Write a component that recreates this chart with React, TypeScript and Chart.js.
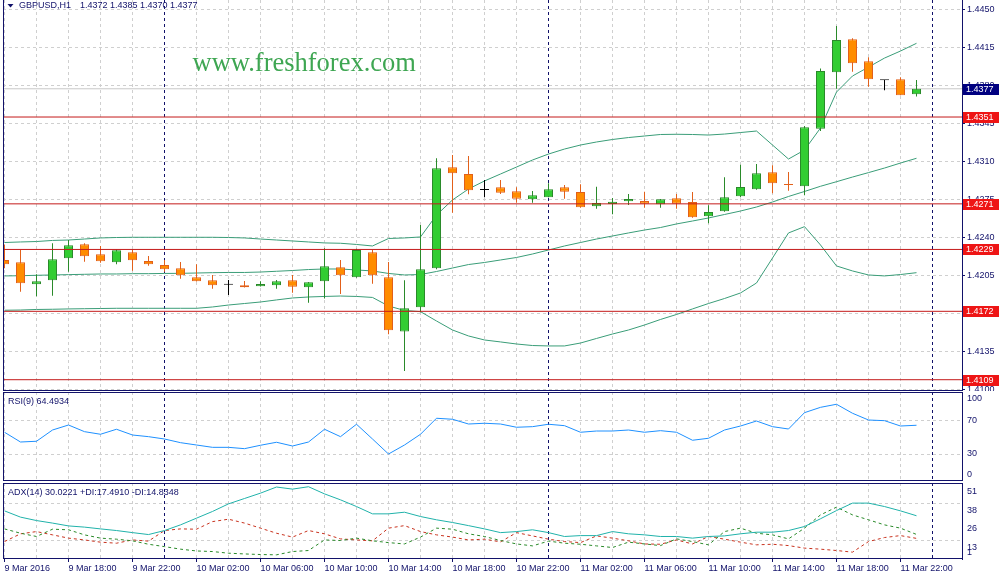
import { useEffect, useRef } from "react"
import { Chart, registerables } from "chart.js"

Chart.register(...registerables)

// Chart values (GBPUSD H1, 9 Mar 14:00 .. 11 Mar 23:00)
const symbol = "GBPUSD,H1"
const timeLabels = [
  "9 Mar 2016", "9 Mar 18:00", "9 Mar 22:00", "10 Mar 02:00", "10 Mar 06:00",
  "10 Mar 10:00", "10 Mar 14:00", "10 Mar 18:00", "10 Mar 22:00", "11 Mar 02:00",
  "11 Mar 06:00", "11 Mar 10:00", "11 Mar 14:00", "11 Mar 18:00", "11 Mar 22:00",
]

const opens = [
  1.42193, 1.42172, 1.41969, 1.42006, 1.42209, 1.42338, 1.42245, 1.42172, 1.42264, 1.42184,
  1.42147, 1.42116, 1.42034, 1.42006, 1.41965, 1.4196, 1.41951, 1.4196, 1.42006, 1.41942,
  1.41997, 1.42126, 1.42034, 1.42264, 1.42034, 1.41533, 1.41757, 1.42116, 1.43047, 1.42985,
  1.42838, 1.42862, 1.42826, 1.42752, 1.4277, 1.42862, 1.42819, 1.42687, 1.42709, 1.42734,
  1.42736, 1.42706, 1.42761, 1.42727, 1.42595, 1.42641, 1.4278, 1.42844, 1.43001, 1.42888,
  1.42872, 1.43402, 1.43922, 1.44226, 1.44023, 1.43848, 1.43857, 1.4372,
]
const highs = [
  1.42335, 1.42285, 1.42061, 1.42347, 1.42377, 1.42347, 1.42322, 1.42288, 1.42288, 1.4223,
  1.42193, 1.42175, 1.42153, 1.42055, 1.42009, 1.42, 1.41997, 1.42009, 1.42055, 1.4199,
  1.42301, 1.42193, 1.42297, 1.42285, 1.42175, 1.42006, 1.42515, 1.4313, 1.4316, 1.43151,
  1.4293, 1.4293, 1.42862, 1.42828, 1.42899, 1.42884, 1.4289, 1.42868, 1.42764, 1.42801,
  1.42822, 1.42755, 1.42801, 1.42819, 1.42697, 1.42955, 1.43071, 1.43077, 1.43065, 1.43003,
  1.43427, 1.43958, 1.44348, 1.44235, 1.4406, 1.4385, 1.43876, 1.4385,
]
const lows = [
  1.42116, 1.41901, 1.41859, 1.41864, 1.42085, 1.42177, 1.42168, 1.42153, 1.42094, 1.4214,
  1.42085, 1.42021, 1.41994, 1.41929, 1.41871, 1.4194, 1.41949, 1.41929, 1.41892, 1.418,
  1.41837, 1.4188, 1.4203, 1.41975, 1.41509, 1.41171, 1.41711, 1.42107, 1.42629, 1.42798,
  1.4277, 1.42801, 1.42721, 1.42721, 1.4277, 1.42757, 1.42675, 1.42665, 1.42614, 1.42699,
  1.42675, 1.42675, 1.42665, 1.42583, 1.42531, 1.42638, 1.4277, 1.4284, 1.42807, 1.42831,
  1.42789, 1.43381, 1.43771, 1.43927, 1.43789, 1.43756, 1.4371, 1.437,
]
const closes = [
  1.42153, 1.41978, 1.41997, 1.42199, 1.42328, 1.42227, 1.42181, 1.42282, 1.4219, 1.42153,
  1.42107, 1.42052, 1.41997, 1.4196, 1.41965, 1.41942, 1.41972, 1.41997, 1.41947, 1.41988,
  1.42135, 1.42052, 1.42285, 1.42052, 1.41545, 1.41748, 1.42107, 1.43037, 1.42991, 1.42835,
  1.42838, 1.42813, 1.42757, 1.42789, 1.42844, 1.42822, 1.42678, 1.42718, 1.4273, 1.42755,
  1.42711, 1.42752, 1.42711, 1.42586, 1.42635, 1.4277, 1.42865, 1.42991, 1.42899, 1.42884,
  1.43415, 1.43934, 1.44219, 1.44005, 1.43857, 1.43848, 1.4371, 1.4377,
]

// Bollinger bands
const bbUpper = [
  1.42354, 1.42359, 1.42363, 1.42373, 1.42377, 1.42386, 1.42396, 1.424, 1.42402, 1.42402,
  1.42402, 1.42402, 1.42402, 1.42402, 1.424, 1.42396, 1.42386, 1.42377, 1.42368, 1.42359,
  1.4235, 1.42347, 1.42336, 1.42322, 1.42391, 1.42396, 1.42405, 1.42607, 1.42746, 1.42847,
  1.42921, 1.42985, 1.43049, 1.43114, 1.43169, 1.43215, 1.43252, 1.4328, 1.43303, 1.43321,
  1.43335, 1.43349, 1.43351, 1.43349, 1.43344, 1.43353, 1.43367, 1.43381, 1.43252, 1.43123,
  1.43206, 1.43409, 1.4374, 1.43888, 1.4397, 1.44053, 1.44118, 1.44189,
]
const bbMiddle = [
  1.42046, 1.42048, 1.42052, 1.42055, 1.42058, 1.42061, 1.42064, 1.42064, 1.42067, 1.42067,
  1.42069, 1.4207, 1.42073, 1.42076, 1.42078, 1.42078, 1.42082, 1.42089, 1.42096, 1.42105,
  1.4211, 1.4211, 1.42101, 1.42092, 1.42069, 1.42055, 1.42059, 1.42087, 1.42119, 1.42151,
  1.4217, 1.42193, 1.42216, 1.42248, 1.42285, 1.42322, 1.42354, 1.42386, 1.42414, 1.42442,
  1.42469, 1.42492, 1.42525, 1.42552, 1.4258, 1.42612, 1.42644, 1.42681, 1.42727, 1.42778,
  1.42824, 1.42872, 1.42914, 1.42957, 1.42998, 1.4304, 1.43086, 1.4313,
]
const bbLower = [
  1.4173, 1.41732, 1.41737, 1.41739, 1.41742, 1.41744, 1.41746, 1.41748, 1.41748, 1.41748,
  1.41748, 1.41748, 1.41748, 1.4176, 1.41778, 1.41792, 1.41806, 1.41825, 1.41843, 1.41852,
  1.41857, 1.41861, 1.41857, 1.41848, 1.41769, 1.41728, 1.41717, 1.41631, 1.41548, 1.41493,
  1.41456, 1.41438, 1.41419, 1.41405, 1.41401, 1.41401, 1.41428, 1.4147, 1.41511, 1.41548,
  1.41594, 1.41645, 1.41691, 1.41742, 1.41792, 1.41838, 1.41889, 1.41981, 1.42211, 1.42442,
  1.425, 1.42331, 1.42138, 1.42092, 1.42055, 1.42046, 1.42059, 1.42076,
]

const rsiValues = [
  56.1, 44.4, 45.3, 58.8, 64.8, 56.8, 53.7, 59.7, 52.8, 50.8,
  48, 43.6, 40.8, 38, 38, 36.4, 40.5, 44.1, 39.6, 44.4,
  59.7, 50.8, 65.7, 48, 30, 40.8, 53.7, 72.9, 71.7, 66,
  66.9, 66, 62.1, 62.8, 65.7, 64, 56.1, 57.6, 57.6, 58.8,
  56.1, 58, 56.1, 46.5, 48.9, 58.8, 63.6, 69.6, 62.8, 60,
  79.6, 86, 89.7, 78.9, 70.8, 70, 63.6, 64.4934,
]
const adxValues = [
  33.3, 29.1, 26.8, 25.1, 23.2, 22.4, 21.2, 20.1, 18.7, 17.4,
  20.1, 23.9, 28.4, 32.9, 38, 41.6, 45.2, 49.3, 47.9, 49.5,
  44.7, 40.7, 36.2, 31.3, 31.3, 32.4, 29.5, 27.3, 25.5, 23.4,
  21.2, 18.7, 19.4, 20.6, 18.7, 16.1, 16.7, 16.7, 19.4, 17.9,
  17.2, 16.1, 16.1, 15, 16.1, 16.5, 17.9, 19, 19, 20.1,
  22.8, 28, 33.5, 38.5, 38.5, 36.2, 33.3, 30.0221,
]
const plusDi = [
  21.2, 18.3, 16.1, 21, 20.6, 17.2, 15, 14.3, 13.2, 10.9,
  9.3, 7.6, 6.4, 6, 4.9, 4.4, 4, 3.8, 6, 6.7,
  13.8, 13.4, 15, 13.2, 12, 11.1, 15.7, 21.7, 21, 17.9,
  16.1, 13.4, 11.1, 9.8, 13, 11.6, 10.9, 9.8, 8.7, 12.3,
  11.1, 10, 14.5, 12.7, 10.5, 19.4, 21.7, 18.3, 17.2, 14.5,
  21.7, 30.6, 35.8, 30.6, 27.3, 23.9, 21.7, 17.491,
]
const minusDi = [
  12.7, 17.9, 19.4, 17.2, 15, 13.8, 12.3, 11.6, 13.8, 13,
  20.1, 21.2, 21, 26.1, 27.7, 25.1, 21.7, 18.3, 15.7, 20.1,
  17.9, 14.5, 13.8, 13.2, 21.7, 23.4, 19.4, 17.2, 15.7, 13.8,
  14.3, 12.5, 18.7, 16.5, 14.3, 12.7, 12, 16.5, 15, 13.2,
  11.1, 10.9, 13.8, 11.1, 16.1, 14.3, 12.3, 10.5, 10.9, 10,
  8.3, 7.6, 6.7, 5.6, 12.7, 15.4, 16.7, 14.8348,
]

const levels = [1.4351, 1.4271, 1.4229, 1.4172, 1.4109]
const priceTicks = [1.445, 1.4415, 1.438, 1.4345, 1.431, 1.4275, 1.424, 1.4205, 1.417, 1.4135, 1.41]
const rsiTicks = [100, 70, 30, 0]
const rsiTickLabels = ["100", "70", "30", "0"]
const rsiGrid = [70, 30]
const adxTicks = [51, 38.5, 26, 13.5, 1]
const adxTickLabels = ["51", "38", "26", "13", "1"]
const adxGrid = [38.5, 13.5]
const daySeparators = [10, 34, 58]

const NAVY = "#12126a"
const GRID = "#cfcfcf"
const FONT = '"Liberation Sans", Arial, sans-serif'
const UP_FILL = "#32cd32"
const UP_EDGE = "#2a8a2a"
const DOWN_FILL = "#ff8c00"
const DOWN_EDGE = "#e2601a"
const BB = "#3a9d78"
const LEVEL = "#c41a1a"

const X_MIN = -0.09375
const X_MAX = 59.84375
const idx = opens.map((_, i) => i)
const gridTicks = Array.from({ length: 30 }, (_, k) => k * 2)

const isDoji = (i: number) => opens[i] === closes[i]
const bodyFill = idx.map((i) => (isDoji(i) ? "#000" : closes[i] > opens[i] ? UP_FILL : DOWN_FILL))
const bodyEdge = idx.map((i) => (isDoji(i) ? "#000" : closes[i] > opens[i] ? UP_EDGE : DOWN_EDGE))

function xAxis(showLabels: boolean) {
  return {
    type: "linear",
    min: X_MIN,
    max: X_MAX,
    offset: false,
    afterBuildTicks: (s: any) => {
      s.ticks = gridTicks.map((v) => ({ value: v }))
    },
    afterFit: (s: any) => {
      s.height = showLabels ? 20 : 0
      s.paddingLeft = 0
      s.paddingRight = 0
    },
    grid: {
      color: GRID,
      offset: false,
      drawTicks: showLabels,
      tickLength: 3,
      tickColor: (c: any) => (c.tick && c.tick.value % 4 === 0 ? NAVY : "rgba(0,0,0,0)"),
    },
    border: { display: false, dash: [3, 3] },
    ticks: {
      display: showLabels,
      autoSkip: false,
      maxRotation: 0,
      minRotation: 0,
      align: "start",
      padding: 1,
      color: NAVY,
      font: { family: FONT, size: 9 },
      callback: (v: number) => (v % 4 === 0 ? timeLabels[v / 4] ?? "" : ""),
    },
  }
}

function yAxis(min: number, max: number, ticks: number[], showLabels: boolean) {
  return {
    type: "linear",
    position: "right",
    min,
    max,
    afterBuildTicks: (s: any) => {
      s.ticks = ticks.map((v) => ({ value: v }))
    },
    afterFit: (s: any) => {
      s.width = 41
      s.paddingTop = 0
      s.paddingBottom = 0
    },
    grid: { color: GRID, drawTicks: showLabels, tickLength: 3, tickColor: NAVY },
    border: { display: true, color: NAVY, dash: [3, 3] },
    ticks: {
      display: showLabels,
      padding: 2,
      color: NAVY,
      font: { family: FONT, size: 9 },
      callback: (v: number) => v.toFixed(4),
    },
  }
}

const framePlugin = (drawTop: boolean) => ({
  id: "frame",
  afterDraw(chart: any) {
    const { ctx, chartArea: a } = chart
    ctx.save()
    ctx.strokeStyle = NAVY
    ctx.lineWidth = 1
    ctx.beginPath()
    if (drawTop) {
      ctx.moveTo(a.left, a.top + 0.5)
      ctx.lineTo(a.right + 1, a.top + 0.5)
    }
    ctx.moveTo(a.left + 0.5, a.top)
    ctx.lineTo(a.left + 0.5, a.bottom)
    ctx.moveTo(a.left, a.bottom - 0.5)
    ctx.lineTo(a.right + 1, a.bottom - 0.5)
    ctx.moveTo(a.right + 0.5, a.top)
    ctx.lineTo(a.right + 0.5, a.bottom)
    ctx.stroke()
    ctx.restore()
  },
})

const separatorPlugin = {
  id: "daySeparators",
  beforeDatasetsDraw(chart: any) {
    const { ctx, chartArea: a, scales } = chart
    ctx.save()
    ctx.strokeStyle = NAVY
    ctx.lineWidth = 1
    ctx.setLineDash([3, 3])
    daySeparators.forEach((i) => {
      const x = scales.x.getPixelForValue(i)
      ctx.beginPath()
      ctx.moveTo(x, a.top)
      ctx.lineTo(x, a.bottom)
      ctx.stroke()
    })
    ctx.restore()
  },
}

const panelTextPlugin = (title: string, ticks: number[], labels: string[], offset: number) => ({
  id: "panelText",
  afterDraw(chart: any) {
    const { ctx, chartArea: a, scales } = chart
    ctx.save()
    ctx.font = `9px ${FONT}`
    ctx.fillStyle = NAVY
    ctx.textBaseline = "middle"
    ctx.textAlign = "left"
    ctx.fillText(title, a.left + 5, a.top + 10)
    ticks.forEach((v, k) => {
      const y = Math.min(Math.max(scales.y.getPixelForValue(v) + offset, a.top + 7), a.bottom - 6)
      ctx.fillText(labels[k], a.right + 5, y)
    })
    ctx.restore()
  },
})

const last = opens.length - 1
const mainOverlay = {
  id: "mainOverlay",
  afterDraw(chart: any) {
    const { ctx, chartArea: a, scales } = chart
    ctx.save()
    // symbol header
    ctx.fillStyle = NAVY
    ctx.beginPath()
    ctx.moveTo(a.left + 4.5, 4)
    ctx.lineTo(a.left + 10.5, 4)
    ctx.lineTo(a.left + 7.5, 7.5)
    ctx.closePath()
    ctx.fill()
    ctx.font = `9px ${FONT}`
    ctx.textBaseline = "middle"
    const ohlc = [opens[last], highs[last], lows[last], closes[last]].map((v) => v.toFixed(4)).join(" ")
    ctx.fillText(symbol, a.left + 16, 6)
    ctx.fillText(ohlc, a.left + 77, 6)
    // watermark
    ctx.fillStyle = "#3ea652"
    ctx.font = '26.5px "Liberation Serif", "Times New Roman", serif'
    ctx.textBaseline = "alphabetic"
    ctx.fillText("www.freshforex.com", 192.5, 70.5)
    // price boxes on the axis
    const boxes = [
      ...levels.map((v) => ({ v, color: "#ee1515" })),
      { v: closes[last], color: "#000080" },
    ]
    ctx.font = `9px ${FONT}`
    ctx.textBaseline = "middle"
    boxes.forEach((b) => {
      const y = Math.round(scales.y.getPixelForValue(b.v))
      ctx.fillStyle = b.color
      ctx.fillRect(a.right + 1, y - 5, 36, 11)
      ctx.fillStyle = "#fff"
      ctx.fillText(b.v.toFixed(4), a.right + 4, y + 0.5)
    })
    ctx.restore()
  },
}

const baseOptions = {
  animation: false,
  responsive: false,
  events: [],
  layout: { padding: { left: 3, right: 0, top: 0, bottom: 0 } },
  plugins: { legend: { display: false }, tooltip: { enabled: false } },
}

const line = (values: number[], color: string, order: number, dash: number[] = []) => ({
  type: "line",
  data: idx.map((i) => ({ x: i, y: values[i] })),
  borderColor: color,
  borderWidth: 1,
  borderDash: dash,
  pointRadius: 0,
  tension: 0,
  order,
})

export default function App() {
  const mainRef = useRef<HTMLCanvasElement>(null)
  const rsiRef = useRef<HTMLCanvasElement>(null)
  const adxRef = useRef<HTMLCanvasElement>(null)

  useEffect(() => {
    const charts: Chart[] = []

    if (mainRef.current) {
      charts.push(
        new Chart(mainRef.current, {
          type: "line",
          data: {
            datasets: [
              ...levels.map((v) => ({
                type: "line",
                data: [{ x: X_MIN, y: v }, { x: X_MAX, y: v }],
                borderColor: LEVEL,
                borderWidth: 1,
                pointRadius: 0,
                order: 0,
              })),
              {
                type: "bar",
                data: idx.map((i) => ({ x: i, y: [opens[i], closes[i]] })),
                backgroundColor: bodyFill,
                borderColor: bodyEdge,
                borderWidth: 1,
                borderSkipped: false,
                barThickness: 9,
                minBarLength: 1,
                grouped: false,
                inflateAmount: 0,
                order: 1,
              },
              {
                type: "bar",
                data: idx.map((i) => ({ x: i, y: [lows[i], highs[i]] })),
                backgroundColor: bodyEdge,
                borderWidth: 0,
                barThickness: 1,
                grouped: false,
                inflateAmount: 0,
                order: 2,
              },
              line(bbUpper, BB, 3),
              line(bbMiddle, BB, 3),
              line(bbLower, BB, 3),
              {
                type: "line",
                data: [{ x: X_MIN, y: closes[last] }, { x: X_MAX, y: closes[last] }],
                borderColor: "#c8c8c8",
                borderWidth: 1,
                pointRadius: 0,
                order: 4,
              },
            ],
          },
          options: {
            ...baseOptions,
            scales: { x: xAxis(false), y: yAxis(1.40986, 1.44588, priceTicks, true) },
          },
          plugins: [separatorPlugin, framePlugin(false), mainOverlay],
        } as any)
      )
    }

    if (rsiRef.current) {
      charts.push(
        new Chart(rsiRef.current, {
          type: "line",
          data: { datasets: [line(rsiValues, "#1e90ff", 0)] },
          options: {
            ...baseOptions,
            scales: { x: xAxis(false), y: yAxis(-2.4, 104.4, rsiGrid, false) },
          },
          plugins: [
            separatorPlugin,
            framePlugin(true),
            panelTextPlugin(`RSI(9) ${rsiValues[last].toFixed(4)}`, rsiTicks, rsiTickLabels, 0),
          ],
        } as any)
      )
    }

    if (adxRef.current) {
      const title = `ADX(14) ${adxValues[last].toFixed(4)} +DI:${plusDi[last].toFixed(4)} -DI:${minusDi[last].toFixed(4)}`
      charts.push(
        new Chart(adxRef.current, {
          type: "line",
          data: {
            datasets: [
              line(adxValues, "#20b2aa", 0),
              line(plusDi, "#2a8a2a", 1, [3, 3]),
              line(minusDi, "#c8321e", 2, [3, 3]),
            ],
          },
          options: {
            ...baseOptions,
            scales: { x: xAxis(true), y: yAxis(1, 52, adxGrid, false) },
          },
          plugins: [separatorPlugin, framePlugin(true), panelTextPlugin(title, adxTicks, adxTickLabels, 7)],
        } as any)
      )
    }

    return () => charts.forEach((c) => c.destroy())
  }, [])

  return (
    <div style={{ position: "fixed", left: 0, top: 0, width: 1003, height: 579, background: "#fff", overflow: "hidden" }}>
      <canvas ref={mainRef} width={1003} height={391} style={{ position: "absolute", left: 0, top: 0 }} />
      <canvas ref={rsiRef} width={1003} height={89} style={{ position: "absolute", left: 0, top: 392 }} />
      <canvas ref={adxRef} width={1003} height={96} style={{ position: "absolute", left: 0, top: 483 }} />
    </div>
  )
}
